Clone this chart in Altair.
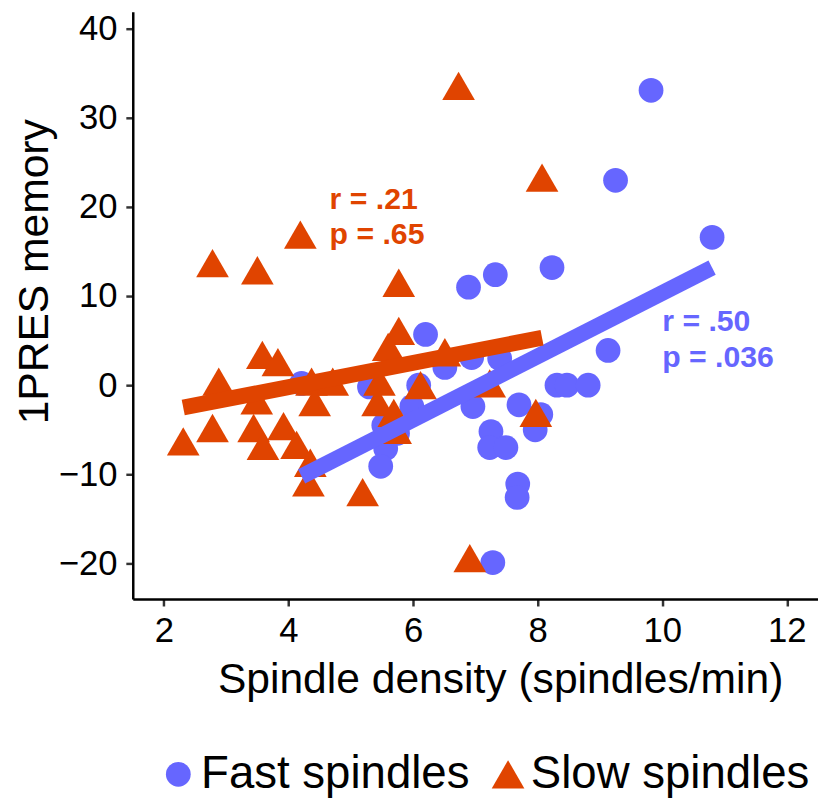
import altair as alt
import pandas as pd

# ---- data ----
fast_x = [9.82, 9.25, 10.80, 9.13, 6.89, 7.32, 8.23, 6.20, 6.94, 7.39, 6.51,
          8.31, 8.47, 8.81, 6.96, 7.70, 8.05, 7.96, 7.25, 7.23, 7.49, 7.68,
          7.67, 7.28, 4.21, 5.30, 6.09, 5.98, 5.53, 5.75, 5.56, 5.48]
fast_y = [33.1, 23.0, 16.6, 3.9, 11.0, 12.4, 13.2, 5.7, 3.1, 3.0, 2.0,
          0.0, 0.0, 0.0, -2.4, -2.2, -3.3, -5.0, -5.2, -7.0, -7.0, -11.1,
          -12.6, -19.9, 0.2, -0.2, 0.0, -2.4, -4.5, -5.4, -7.1, -9.1]

slow_x = [6.73, 8.07, 4.19, 2.78, 3.50, 5.77, 5.77, 5.60, 3.58, 3.83, 6.51,
          2.88, 4.37, 4.71, 5.46, 6.12, 7.23, 3.49, 4.42, 5.43, 5.69, 7.97,
          2.78, 3.44, 3.92, 2.31, 3.59, 4.13, 4.35, 4.32, 5.19, 6.91, 5.72]
slow_y = [33.6, 23.3, 16.9, 13.7, 12.9, 11.5, 6.1, 4.3, 3.4, 2.6, 3.7,
          0.4, 0.4, 0.4, 0.4, 0.0, 0.2, -1.7, -1.9, -1.9, -3.1, -3.1,
          -4.8, -4.8, -4.6, -6.3, -6.8, -6.7, -8.7, -10.9, -12.0, -19.4, -5.0]

series_names = ["Fast spindles", "Slow spindles"]
series_colors = ["#6666FF", "#E04400"]
series_shapes = ["circle", "triangle-up"]

x_ticks = [2, 4, 6, 8, 10, 12]
y_ticks = [-20, -10, 0, 10, 20, 30, 40]

ann_text = ["r = .21", "p = .65", "r = .50", "p = .036"]
ann_x = [4.66, 4.66, 10.0, 10.0]
ann_y = [19.8, 15.8, 6.1, 2.0]
ann_series = ["Slow spindles", "Slow spindles", "Fast spindles", "Fast spindles"]

FONT = "Liberation Sans"

df = pd.DataFrame({
    "x": fast_x + slow_x,
    "y": fast_y + slow_y,
    "series": [series_names[0]] * len(fast_x) + [series_names[1]] * len(slow_x),
})
ann = pd.DataFrame({"x": ann_x, "y": ann_y, "text": ann_text, "series": ann_series})

x_scale = alt.Scale(domain=[1.5, 12.5], nice=False, zero=False)
y_scale = alt.Scale(domain=[-24.0, 41.9], nice=False, zero=False)

x_axis = alt.Axis(values=x_ticks, format="d", title="Spindle density (spindles/min)",
                  titleX=371, titleY=94, titleBaseline="alphabetic",
                  labelPadding=8)
y_axis = alt.Axis(values=y_ticks, format="d", title="1PRES memory",
                  titleX=-99, titleY=262, titleBaseline="middle", titleAngle=-90,
                  labelPadding=9)

legend = alt.Legend(title=None, orient="none", direction="horizontal",
                    legendX=23, legendY=747, labelFontSize=46, labelFont=FONT,
                    labelColor="black", labelOffset=0, columnPadding=15,
                    labelLimit=0, symbolStrokeWidth=0)

base = alt.Chart(df)

points = base.mark_point(filled=True, opacity=1, strokeWidth=0).encode(
    x=alt.X("x:Q", scale=x_scale, axis=x_axis),
    y=alt.Y("y:Q", scale=y_scale, axis=y_axis),
    color=alt.Color("series:N", scale=alt.Scale(domain=series_names, range=series_colors), legend=legend),
    shape=alt.Shape("series:N", scale=alt.Scale(domain=series_names, range=series_shapes), legend=legend),
    size=alt.Size("series:N", scale=alt.Scale(domain=series_names, range=[625, 1089]), legend=legend),
)

lines = []
for name, col in zip(series_names, series_colors):
    lines.append(
        base.transform_filter(alt.datum.series == name)
        .transform_regression("x", "y")
        .mark_line(strokeWidth=16, strokeCap="butt", color=col)
        .encode(x=alt.X("x:Q", scale=x_scale), y=alt.Y("y:Q", scale=y_scale))
    )

texts = []
for name, col in zip(series_names, series_colors):
    texts.append(
        alt.Chart(ann).transform_filter(alt.datum.series == name)
        .mark_text(align="left", baseline="alphabetic", fontWeight="bold",
                   fontSize=30.5, font=FONT, color=col)
        .encode(x=alt.X("x:Q", scale=x_scale), y=alt.Y("y:Q", scale=y_scale), text="text:N")
    )

chart = alt.layer(points, *lines, *texts).properties(
    width=692, height=593,
    autosize=alt.AutoSizeParams(type="none"),
    padding={"left": 126, "top": 0, "right": 0, "bottom": 197},
).configure_view(stroke=None).configure_axis(
    grid=False, domainColor="black", domainWidth=2.5, tickColor="#333333",
    tickWidth=2.5, tickSize=7, labelFontSize=35, labelFont=FONT, labelColor="black",
    titleFontSize=43, titleFont=FONT, titleFontWeight="normal", titleColor="black",
)

chart.save("out.html", embed_options={"renderer": "svg", "actions": False})
